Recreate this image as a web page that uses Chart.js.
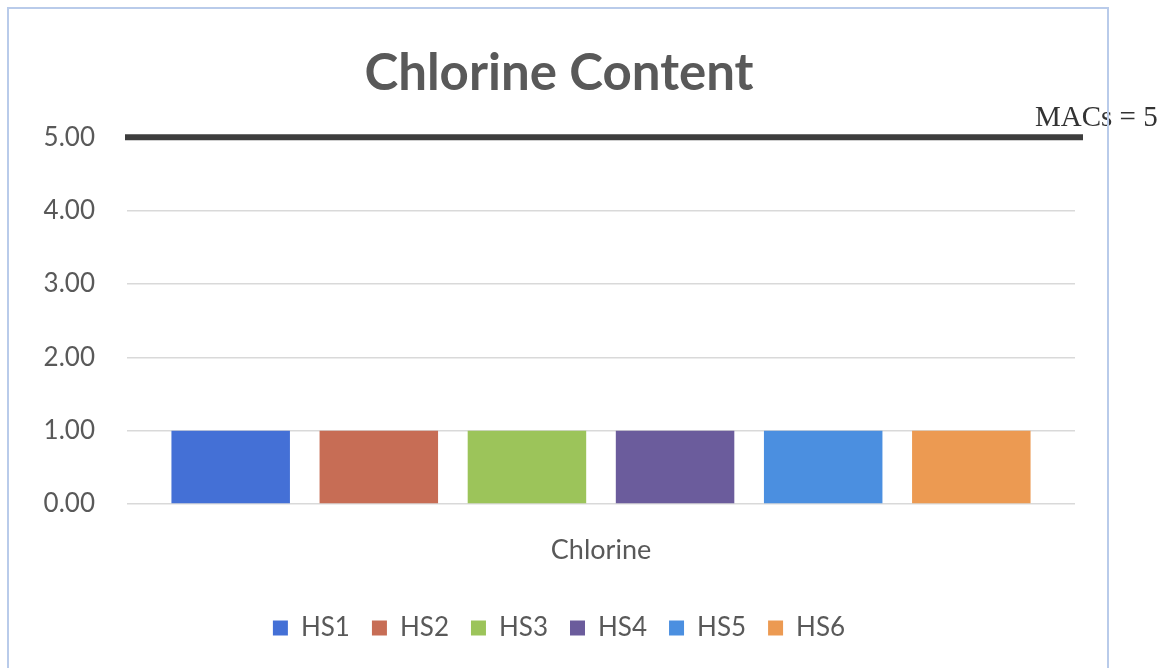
<!DOCTYPE html>
<html>
<head>
<meta charset="utf-8">
<script src="https://cdn.jsdelivr.net/npm/chart.js@4"></script>
<style>
  html, body { margin: 0; padding: 0; background: #ffffff; }
  #wrap { position: relative; width: 1159px; height: 668px; overflow: hidden; }
  #frame { position: absolute; left: 7px; top: 7px; width: 1102px; height: 720px;
           border: 2px solid #b9cbea; box-sizing: border-box; pointer-events: none; }
  canvas { position: absolute; left: 0; top: 0; }
</style>
</head>
<body>
<div id="wrap">
  <canvas id="chart" width="1159" height="668"></canvas>
  <div id="frame"></div>
</div>
<script>
// Chlorine content per sampling site, with the maximum allowable concentration.
const categories = ['Chlorine'];
const sites = ['HS1', 'HS2', 'HS3', 'HS4', 'HS5', 'HS6'];
const chlorine = [1.00, 1.00, 1.00, 1.00, 1.00, 1.00];
const siteColors = ['#4470d6', '#c76d55', '#9cc45a', '#6b5c9c', '#4b8fe0', '#ec9a52'];
const yTicks = [0, 1, 2, 3, 4, 5];
const macLimit = 5;
const macLabel = 'MACs = 5';

const textGrey = '#595959';

// Horizontal limit line plus its label, placed through the y scale.
const limitLine = {
  id: 'limitLine',
  afterDatasetsDraw(chart) {
    const { ctx, chartArea, scales } = chart;
    const y = scales.y.getPixelForValue(macLimit);
    ctx.save();
    ctx.strokeStyle = '#3d3d3d';
    ctx.lineWidth = 6;
    ctx.beginPath();
    ctx.moveTo(chartArea.left - 2, y);
    ctx.lineTo(chartArea.right + 8, y);
    ctx.stroke();
    ctx.fillStyle = '#333333';
    ctx.font = '29px "Liberation Serif", "DejaVu Serif", serif';
    ctx.textAlign = 'left';
    ctx.textBaseline = 'alphabetic';
    ctx.fillText(macLabel, chartArea.right - 40, y - 11);
    ctx.restore();
  }
};

new Chart(document.getElementById('chart'), {
  type: 'bar',
  data: {
    labels: categories,
    datasets: sites.map((name, i) => ({
      label: name,
      data: [chlorine[i]],
      backgroundColor: siteColors[i],
      borderWidth: 0,
      categoryPercentage: 0.9375,
      barPercentage: 0.8
    }))
  },
  options: {
    responsive: false,
    animation: false,
    layout: { padding: { left: 43, right: 84, top: 0, bottom: 17 } },
    plugins: {
      tooltip: { enabled: false },
      title: {
        display: true,
        text: 'Chlorine Content',
        color: textGrey,
        font: { family: 'Lato', size: 51, weight: 'bold' },
        padding: { top: 43, bottom: 33 }
      },
      legend: {
        position: 'bottom',
        labels: {
          color: textGrey,
          font: { family: 'Lato', size: 26 },
          boxWidth: 15,
          boxHeight: 15,
          padding: 22
        }
      }
    },
    scales: {
      x: {
        grid: { display: false },
        border: { display: false },
        ticks: {
          color: textGrey,
          font: { family: 'Lato', size: 27 },
          padding: 22
        },
        afterFit(scale) { scale.height = 89; }
      },
      y: {
        min: 0,
        max: 5,
        afterBuildTicks(scale) { scale.ticks = yTicks.map(v => ({ value: v })); },
        grid: { color: '#d9d9d9', lineWidth: 1.5, drawTicks: false },
        border: { display: false },
        ticks: {
          color: textGrey,
          font: { family: 'Lato', size: 26 },
          padding: 32,
          callback: v => Number(v).toFixed(2)
        },
        afterFit(scale) { scale.width = 84; }
      }
    }
  },
  plugins: [limitLine]
});
</script>
</body>
</html>
